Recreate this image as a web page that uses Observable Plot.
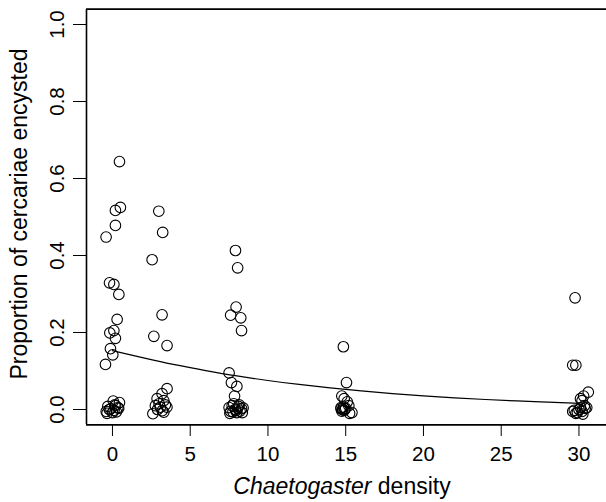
<!DOCTYPE html>
<html><head><meta charset="utf-8">
<script src="https://cdn.jsdelivr.net/npm/d3@7"></script>
<script src="https://cdn.jsdelivr.net/npm/@observablehq/plot@0.6"></script>
<style>body{margin:0;background:#fff} svg{display:block}</style>
</head><body><div id="chart"></div>
<script>
const density = [
  0.45,0.51,0.19,0.19,-0.41,-0.19,0.09,0.41,0.30,-0.17,0.09,0.19,-0.13,0.02,-0.45,
  0.05,0.45,-0.30,0.20,0.35,-0.40,0.10,-0.10,0.25,0.00,-0.20,0.40,0.15,-0.35,
  2.98,3.23,2.55,3.19,2.66,3.51,
  3.51,3.19,2.87,3.30,2.76,3.08,3.50,2.60,3.30,3.00,2.90,3.40,3.20,
  7.91,8.05,7.95,7.60,8.25,8.30,7.50,7.65,8.00,7.85,
  7.50,7.70,7.90,8.10,8.30,7.60,8.00,8.20,7.80,8.40,7.55,8.15,7.95,8.05,7.75,8.35,
  14.85,15.05,14.75,14.90,15.10,14.70,14.80,14.90,15.00,14.75,14.85,15.25,15.40,15.20,14.95,14.70,
  29.75,29.60,29.80,30.60,30.30,30.20,30.10,29.60,29.80,30.00,30.20,30.40,30.50,29.90,30.35,30.10,29.70,30.25
];
const proportion = [
  0.644,0.525,0.517,0.478,0.448,0.329,0.325,0.299,0.234,0.199,0.205,0.185,0.158,0.142,0.117,
  0.022,0.018,0.008,0.010,0.005,-0.005,-0.002,0.002,-0.006,-0.008,0.000,0.003,0.012,-0.010,
  0.515,0.460,0.389,0.246,0.190,0.166,
  0.054,0.041,0.028,0.023,0.010,0.006,0.006,-0.011,-0.007,0.015,0.000,0.012,-0.003,
  0.413,0.368,0.266,0.245,0.238,0.205,0.095,0.070,0.060,0.035,
  0.005,0.010,0.000,0.008,0.002,-0.005,-0.008,-0.004,0.015,0.004,-0.010,0.012,-0.002,0.003,-0.006,-0.008,
  0.163,0.070,0.035,0.028,0.020,0.005,0.000,-0.002,0.003,-0.004,0.006,-0.010,-0.008,0.010,0.001,0.002,
  0.290,0.115,0.115,0.045,0.035,0.023,0.028,-0.005,-0.010,0.000,-0.005,0.003,0.005,-0.008,0.010,0.005,-0.002,-0.012
];
// Fitted curve
const fitDensity = [0,2,4,6,8,10,12,14,16,18,20,22,24,26,28,30];
const fitProportion = [0.153,0.134,0.116,0.101,0.087,0.075,0.065,0.056,0.048,0.041,0.035,0.030,0.026,0.022,0.019,0.016];
const xTicks = [0,5,10,15,20,25,30];
const yTicks = [0,0.2,0.4,0.6,0.8,1.0];
const xTitleItalic = "Chaetogaster";
const xTitleRest = " density";
const yTitle = "Proportion of cercariae encysted";

const points = density.map((d,i)=>({x:d, y:proportion[i]}));
const fit = fitDensity.map((d,i)=>({x:d, y:fitProportion[i]}));
const X0 = -1.67, X1 = 31.9, Y0 = -0.04, Y1 = 1.04;
const FONT = "Liberation Sans, Arial, Helvetica, sans-serif";

const chart = Plot.plot({
  width: 606, height: 502,
  marginLeft: 86, marginTop: 9, marginBottom: 78, marginRight: 0,
  x: {domain: [X0, X1], range: [86, 608]},
  y: {domain: [Y0, Y1], range: [424.4, 8.6]},
  style: {fontFamily: FONT, background: "#fff", color: "#000"},
  marks: [
    Plot.axisX(xTicks, {tickSize: 12, tickPadding: 10, fontSize: 20.5, label: null, stroke: "#000", strokeWidth: 1}),
    Plot.axisY(yTicks, {tickSize: 13, tickFormat: () => "", label: null, stroke: "#000", strokeWidth: 1}),
    Plot.text(yTicks, {x: X0, y: d => d, text: d => d3.format(".1f")(d), rotate: -90, dx: -23,
      textAnchor: "middle", lineAnchor: "bottom", fontSize: 20.5, fill: "#000"}),
    Plot.ruleX([X0], {stroke: "#000", strokeWidth: 1.6}),
    Plot.ruleY([Y0, Y1], {stroke: "#000", strokeWidth: 1.6}),
    Plot.line(fit, {x: "x", y: "y", stroke: "#000", strokeWidth: 1.2, curve: "basis"}),
    Plot.dot(points, {x: "x", y: "y", r: 5.3, stroke: "#000", strokeWidth: 1.1, fill: "none"})
  ]
});

const svg = d3.select(chart);
const xt = svg.append("text")
  .attr("x", 342).attr("y", 494)
  .attr("text-anchor", "middle")
  .attr("font-family", FONT).attr("font-size", 23).attr("fill", "#000");
xt.append("tspan").attr("font-style", "italic").text(xTitleItalic);
xt.append("tspan").text(xTitleRest);
svg.append("text")
  .attr("transform", "translate(27,214) rotate(-90)")
  .attr("text-anchor", "middle")
  .attr("font-family", FONT).attr("font-size", 23).attr("fill", "#000")
  .text(yTitle);

document.getElementById("chart").appendChild(chart);
</script>
</body></html>
